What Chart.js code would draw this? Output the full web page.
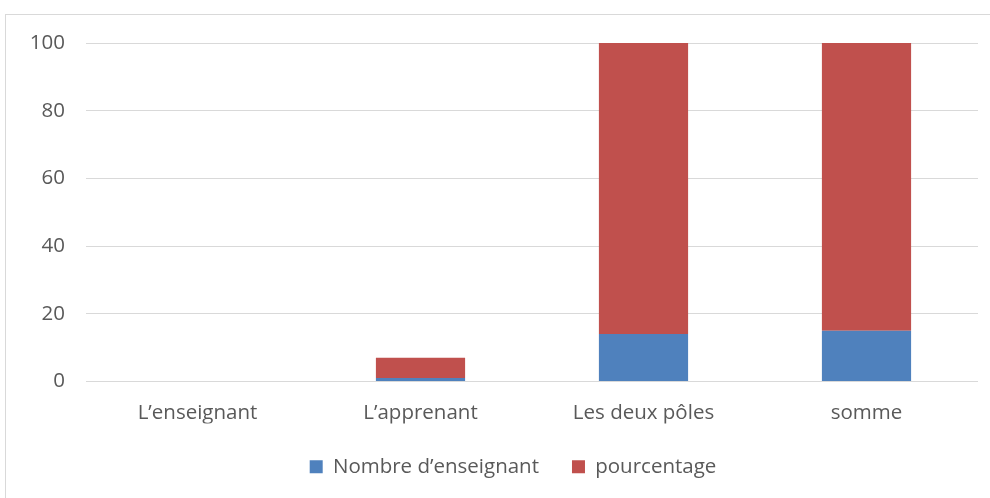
<!DOCTYPE html>
<html>
<head>
<meta charset="utf-8">
<script src="https://cdn.jsdelivr.net/npm/chart.js@4.4.0/dist/chart.umd.min.js"></script>
<style>
  html, body { margin: 0; padding: 0; background: #fff; }
  #wrap { position: relative; width: 990px; height: 498px; overflow: hidden; }
  #frame { position: absolute; left: 5px; top: 14px; width: 1000px; height: 500px;
           border-left: 1px solid #d9d9d9; border-top: 1px solid #d9d9d9; }
  canvas { position: absolute; left: 0; top: 0; }
</style>
</head>
<body>
<div id="wrap">
  <div id="frame"></div>
  <canvas id="chart" width="990" height="498"></canvas>
</div>
<script>
// categories and series
const categories = ['L\u2019enseignant', 'L\u2019apprenant', 'Les deux pôles', 'somme'];
const nombre = [0, 1, 14, 15];
const pourcentage = [0, 6, 86, 85];
const yTicks = [0, 20, 40, 60, 80, 100];

const font = { family: '"Open Sans", Lato, sans-serif', size: 20.5 };
const textColor = '#595959';

// the legend sits a bit right of the canvas centre in the reference
const shiftLegend = {
    id: 'shiftLegend',
    afterLayout(chart) {
        if (chart.legend) {
            chart.legend.left += 24;
            chart.legend.right += 24;
        }
    }
};

document.addEventListener('DOMContentLoaded', function () {
    const ctx = document.getElementById('chart');
    new Chart(ctx, {
        type: 'bar',
        data: {
            labels: categories,
            datasets: [{
                label: 'Nombre d\u2019enseignant',
                data: nombre,
                backgroundColor: '#4f81bd',
                categoryPercentage: 1,
                barPercentage: 0.4
            }, {
                label: 'pourcentage',
                data: pourcentage,
                backgroundColor: '#c0504d',
                categoryPercentage: 1,
                barPercentage: 0.4
            }]
        },
        options: {
            responsive: false,
            animation: false,
            layout: { padding: { top: 43, right: 12, bottom: 11, left: 0 } },
            plugins: {
                tooltip: { enabled: false },
                legend: {
                    position: 'bottom',
                    labels: {
                        color: textColor,
                        font: font,
                        boxWidth: 13,
                        boxHeight: 13,
                        padding: 33
                    }
                }
            },
            scales: {
                x: {
                    stacked: true,
                    grid: { display: false },
                    border: { display: false },
                    ticks: { color: textColor, font: font, padding: 11 },
                    afterFit: function (scale) { scale.height = 42; }
                },
                y: {
                    stacked: true,
                    min: 0,
                    max: 100,
                    afterBuildTicks: function (scale) {
                        scale.ticks = yTicks.map(v => ({ value: v }));
                    },
                    grid: { color: '#d9d9d9', drawTicks: false, lineWidth: 1 },
                    border: { display: false },
                    ticks: { color: textColor, font: font, padding: 21 },
                    afterFit: function (scale) { scale.width = 86; }
                }
            }
        },
        plugins: [shiftLegend]
    });
});
</script>
</body>
</html>
